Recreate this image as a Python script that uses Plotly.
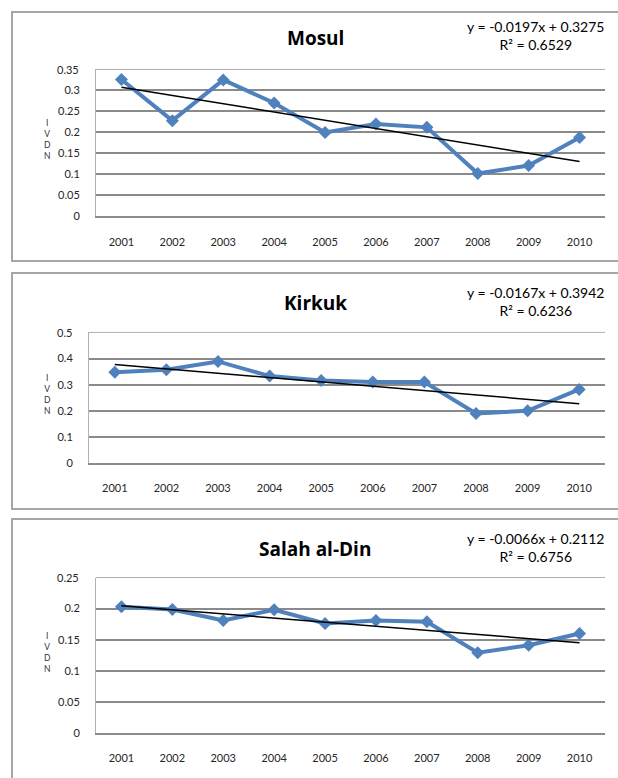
import plotly.graph_objects as go

years = ["2001", "2002", "2003", "2004", "2005", "2006", "2007", "2008", "2009", "2010"]
idx = list(range(1, 11))

mosul = [0.326, 0.228, 0.325, 0.270, 0.200, 0.220, 0.212, 0.102, 0.121, 0.188]
kirkuk = [0.348, 0.357, 0.389, 0.333, 0.316, 0.310, 0.310, 0.190, 0.200, 0.282]
salah = [0.203, 0.1985, 0.181, 0.198, 0.176, 0.181, 0.179, 0.129, 0.141, 0.160]

names = ["Mosul", "Kirkuk", "Salah al-Din"]
slopes = [-0.0197, -0.0167, -0.0066]
intercepts = [0.3275, 0.3942, 0.2112]
r2 = ["0.6529", "0.6236", "0.6756"]
eq_text = ["y = -0.0197x + 0.3275", "y = -0.0167x + 0.3942", "y = -0.0066x + 0.2112"]

y_max = [0.35, 0.5, 0.25]
y_step = [0.05, 0.1, 0.05]
y_ticktext = [
    ["0", "0.05", "0.1", "0.15", "0.2", "0.25", "0.3", "0.35"],
    ["0", "0.1", "0.2", "0.3", "0.4", "0.5"],
    ["0", "0.05", "0.1", "0.15", "0.2", "0.25"],
]

W, H = 618, 778
def px(x):
    return x / W
def py(y):
    return 1 - y / H

# layout geometry in pixels
plot_left = [96, 89, 96]
plot_right = 605
plot_top = [70, 335, 582]
plot_bottom = [218, 466.7, 738.7]
title_y = [38, 305, 553]
eq_y = [36, 304, 552]
panel_box = [(12, 12, 263), (12, 275, 513), (12, 523, 790)]

series = [mosul, kirkuk, salah]
fig = go.Figure()
FONT = "Lato"
TFONT = "Open Sans"
blue = "#4F81BD"
tick_color = "#262626"

for i in range(3):
    sfx = "" if i == 0 else str(i + 1)
    xa, ya = "x" + sfx, "y" + sfx
    fig.add_trace(go.Scatter(
        x=idx, y=series[i], mode="lines+markers", xaxis=xa, yaxis=ya,
        line=dict(color=blue, width=4),
        marker=dict(symbol="diamond", size=10, color=blue),
        showlegend=False, cliponaxis=False))
    trend = [slopes[i] * k + intercepts[i] for k in (1, 10)]
    fig.add_trace(go.Scatter(
        x=[1, 10], y=trend, mode="lines", xaxis=xa, yaxis=ya,
        line=dict(color="black", width=1.5), showlegend=False))

    n = len(y_ticktext[i])
    tickvals = [round(k * y_step[i], 3) for k in range(n)]
    fig.layout["xaxis" + sfx] = dict(
        domain=[px(plot_left[i]), px(plot_right)], range=[0.5, 10.5],
        tickvals=idx, ticktext=years, showgrid=False, zeroline=False,
        showline=True, linecolor="#8c8c8c", linewidth=2,
        ticks="outside", ticklen=14, tickcolor="rgba(0,0,0,0)",
        tickfont=dict(family=FONT, size=11, color=tick_color),
        anchor=ya, fixedrange=True)
    fig.layout["yaxis" + sfx] = dict(
        domain=[py(plot_bottom[i]), py(plot_top[i])], range=[0, y_max[i]],
        tickvals=tickvals[:-1], ticktext=y_ticktext[i][:-1],
        showgrid=True, gridcolor="#8a8a8a", gridwidth=2, zeroline=False,
        showline=True, linecolor="#b0b0b0", linewidth=1,
        ticks="outside", ticklen=13, tickcolor="rgba(0,0,0,0)",
        tickfont=dict(family=FONT, size=11, color=tick_color),
        anchor=xa, fixedrange=True)
    # top boundary line of plot area and its label
    fig.add_shape(type="line", xref="paper", yref="paper",
                  x0=px(plot_left[i]), x1=px(plot_right),
                  y0=py(plot_top[i]), y1=py(plot_top[i]),
                  line=dict(color="#b0b0b0", width=1))
    fig.add_annotation(xref="paper", yref="paper", x=px(plot_left[i] - 15),
                       y=py(plot_top[i]), text=y_ticktext[i][-1], showarrow=False,
                       xanchor="right", yanchor="middle",
                       font=dict(family=FONT, size=11, color=tick_color))
    # panel border
    bx, by0, by1 = panel_box[i]
    fig.add_shape(type="rect", xref="paper", yref="paper",
                  x0=px(bx), x1=px(640), y0=py(by1), y1=py(by0),
                  line=dict(color="#a6a6a6", width=2), layer="below")
    # title
    fig.add_annotation(xref="paper", yref="paper", x=px(315), y=py(title_y[i]),
                       text="<b>" + names[i] + "</b>", showarrow=False,
                       xanchor="center", yanchor="middle",
                       font=dict(family=TFONT, size=19, color="black"))
    # equation
    fig.add_annotation(xref="paper", yref="paper", x=px(606), y=py(eq_y[i]),
                       text=eq_text[i] + "<br>R² = " + r2[i], showarrow=False,
                       xanchor="right", yanchor="middle", align="center",
                       font=dict(family=FONT, size=14, color="black"))
    # stacked y label
    mid = (plot_top[i] + plot_bottom[i]) / 2
    fig.add_annotation(xref="paper", yref="paper", x=px(47), y=py(mid - 3),
                       text="I<br>V<br>D<br>N", showarrow=False,
                       xanchor="center", yanchor="middle",
                       font=dict(family=FONT, size=8.5, color="#333333"))

fig.update_layout(width=W, height=H, autosize=False,
                  margin=dict(l=0, r=0, t=0, b=0),
                  paper_bgcolor="white", plot_bgcolor="white")

fig.write_html("out.html", config={"displayModeBar": False},
               post_script="document.body.style.margin='0';document.body.style.overflow='hidden';")
